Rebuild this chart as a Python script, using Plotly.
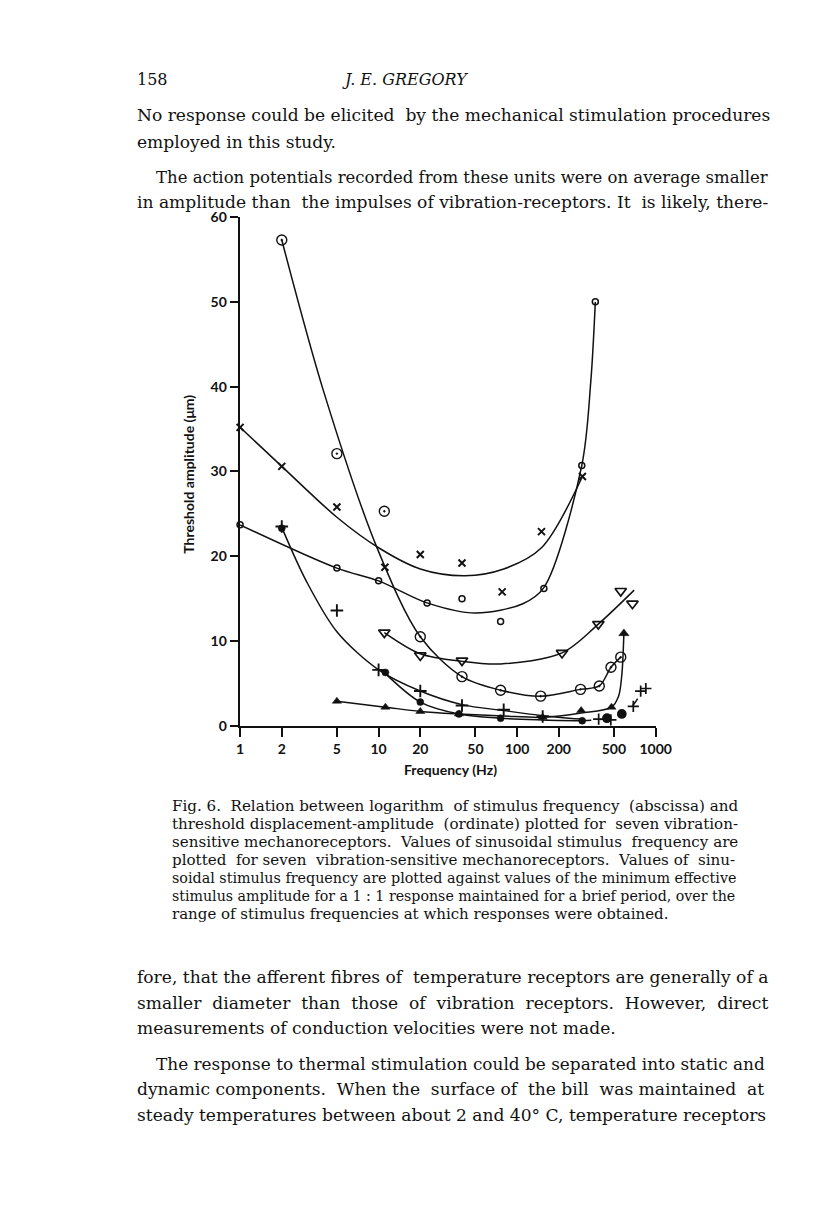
import plotly.graph_objects as go

W, H = 816, 1215

# ---------------- data ----------------
# Unit A: large dotted circles
A_x = [2, 5, 11, 20, 40, 76, 148, 287, 392, 476, 560]
A_y = [57.3, 32.1, 25.3, 10.5, 5.8, 4.2, 3.5, 4.3, 4.7, 6.9, 8.1]
A_cx = [2, 4, 9.8, 20, 40, 76, 148, 287, 392, 476, 560]
A_cy = [57.3, 39.5, 20.9, 10.5, 5.8, 4.2, 3.5, 4.3, 4.7, 6.9, 8.1]

# Unit B: small open circles
B_x = [1, 5, 10, 22.4, 40, 76, 156, 293, 367]
B_y = [23.7, 18.6, 17.1, 14.5, 15.0, 12.3, 16.2, 30.7, 50.0]
B_cx = [1, 5, 10, 22.4, 50, 110, 156, 293, 340, 367]
B_cy = [23.7, 18.6, 17.1, 14.5, 13.3, 14.4, 16.3, 30.7, 40.5, 50.0]

# Unit C: crosses (x)
C_x = [1, 2, 5, 11.1, 20, 40, 78, 150, 296]
C_y = [35.2, 30.6, 25.8, 18.7, 20.2, 19.2, 15.8, 22.9, 29.4]
C_cx = [1, 2, 5, 10, 20, 42, 80, 150, 296]
C_cy = [35.2, 30.6, 24.6, 21.0, 18.5, 17.7, 18.5, 21.0, 29.4]

# Unit D: open inverted triangles
D_x = [11, 20, 40, 211, 386, 560, 680]
D_y = [11.0, 8.3, 7.7, 8.6, 12.0, 15.9, 14.4]
D_cx = [11, 20, 40, 76, 211, 386, 700]
D_cy = [11.0, 8.5, 7.6, 7.3, 8.6, 12.0, 16.0]

# Unit E: plus signs
E_x = [2, 5, 10, 20, 40, 80, 153]
E_y = [23.5, 13.6, 6.6, 4.1, 2.4, 1.9, 1.1]
E_cx = [2, 3, 5, 10, 20, 40, 80, 153, 290]
E_cy = [23.4, 17.1, 11.1, 6.6, 4.1, 2.5, 1.8, 1.2, 0.8]

# Unit F: filled circles (solid part and dashed tail)
F_x = [2, 11.2, 20, 38, 76, 295]
F_y = [23.3, 6.3, 2.8, 1.4, 0.9, 0.6]
F_cx = [10.5, 20, 38, 76, 150, 295]
F_cy = [6.6, 2.8, 1.4, 0.9, 0.7, 0.6]
Ft_x = [388, 445, 475, 570, 690, 780, 850]
Ft_y = [0.8, 0.9, 0.7, 1.4, 2.3, 4.1, 4.4]
Ft_sym = ["cross-thin-open", "circle", "cross-thin-open", "circle",
          "cross-thin-open", "cross-thin-open", "cross-thin-open"]
Ft_cx = [295, 400, 500, 600, 700, 790]
Ft_cy = [0.6, 0.75, 1.0, 1.6, 2.6, 4.0]

# Unit G: filled triangles
G_x = [5, 11.2, 20, 38, 153, 290, 480]
G_y = [2.9, 2.2, 1.7, 1.4, 1.0, 1.8, 2.2]
G_cx = [5, 11.2, 20, 38, 80, 153, 290, 480, 540, 570, 590]
G_cy = [2.9, 2.2, 1.7, 1.4, 1.15, 1.0, 1.5, 2.2, 3.5, 6.0, 10.9]

x_ticks = [1, 2, 5, 10, 20, 50, 100, 200, 500, 1000]
x_ticklabels = ["1", "2", "5", "10", "20", "50", "100", "200", "500", "1000"]
y_ticks = [0, 10, 20, 30, 40, 50, 60]

# page text
head_page = "158"
head_author = "J. E. GREGORY"
body_top = [
    "No response could be elicited by the mechanical stimulation procedures",
    "employed in this study.",
    "The action potentials recorded from these units were on average smaller",
    "in amplitude than the impulses of vibration-receptors. It is likely, there-",
]
caption = [
    "Fig. 6. Relation between logarithm of stimulus frequency (abscissa) and",
    "threshold displacement-amplitude (ordinate) plotted for seven vibration-",
    "sensitive mechanoreceptors. Values of sinusoidal stimulus frequency are",
    "plotted for seven vibration-sensitive mechanoreceptors. Values of sinu-",
    "soidal stimulus frequency are plotted against values of the minimum effective",
    "stimulus amplitude for a 1 : 1 response maintained for a brief period, over the",
    "range of stimulus frequencies at which responses were obtained.",
]
body_bottom = [
    "fore, that the afferent fibres of temperature receptors are generally of a",
    "smaller diameter than those of vibration receptors. However, direct",
    "measurements of conduction velocities were not made.",
    "The response to thermal stimulation could be separated into static and",
    "dynamic components. When the surface of the bill was maintained at",
    "steady temperatures between about 2 and 40° C, temperature receptors",
]

# ---------------- figure ----------------
fig = go.Figure()
K = "#111111"
LW = 1.5


def curve(x, y, dash="solid"):
    fig.add_trace(go.Scatter(x=x, y=y, mode="lines",
                             line=dict(color=K, width=LW, shape="spline",
                                       smoothing=0.9, dash=dash),
                             hoverinfo="skip", cliponaxis=False))


def pts(x, y, symbol, size, lw=1.3):
    fig.add_trace(go.Scatter(x=x, y=y, mode="markers",
                             marker=dict(symbol=symbol, size=size, color=K,
                                         line=dict(color=K, width=lw)),
                             cliponaxis=False))


curve(A_cx, A_cy)
curve(B_cx, B_cy)
curve(C_cx, C_cy)
curve(D_cx, D_cy)
curve(E_cx, E_cy)
curve(F_cx, F_cy)
curve(Ft_cx, Ft_cy, dash="dash")
curve(G_cx, G_cy)

pts(A_x, A_y, "circle-open-dot", 10, 1.4)
pts(B_x, B_y, "circle-open", 6, 1.5)
pts(C_x, C_y, "x-thin-open", 7, 2.0)
pts(D_x, D_y, "triangle-down-open", 10, 1.7)
pts(E_x, E_y, "cross-thin-open", 9, 1.9)
pts(F_x, F_y, "circle", 7, 0.5)
pts(Ft_x, Ft_y, Ft_sym, 8, 1.7)
pts(G_x, G_y, "triangle-up", 8, 0.5)
# arrowhead at the end of the triangle curve
pts([G_cx[-1]], [G_cy[-1]], "triangle-up", 9, 0.5)

# plot area in pixels
x0, x1 = 242, 668
y0, y1 = 727, 211
tickfont = dict(family="Lato", size=14, color=K, weight="bold")

fig.update_layout(
    width=W, height=H, margin=dict(l=0, r=0, t=0, b=0),
    paper_bgcolor="white", plot_bgcolor="white", showlegend=False,
    xaxis=dict(type="log", range=[0, 3], domain=[x0 / W, x1 / W],
               tickvals=x_ticks, ticktext=x_ticklabels, ticks="outside",
               ticklen=9, tickwidth=2, tickcolor=K, showline=True,
               linecolor=K, linewidth=2.5, showgrid=False, zeroline=False,
               tickfont=tickfont, anchor="y"),
    yaxis=dict(range=[0, 60], domain=[1 - y0 / H, 1 - y1 / H],
               tickvals=y_ticks, ticks="outside", ticklen=8, tickwidth=2,
               tickcolor=K, showline=True, linecolor=K, linewidth=2.5,
               showgrid=False, zeroline=False, tickfont=tickfont,
               anchor="x"),
)

ann = []
# axis titles
ann.append(dict(text="Frequency (Hz)", x=458 / W, y=1 - 771 / H,
                xref="paper", yref="paper", showarrow=False,
                xanchor="center", yanchor="middle",
                font=dict(family="Lato", size=14, color=K, weight="bold")))
ann.append(dict(text="Threshold amplitude (μm)", x=189 / W, y=1 - 472 / H,
                xref="paper", yref="paper", showarrow=False, textangle=-90,
                xanchor="center", yanchor="middle",
                font=dict(family="Lato", size=14, color=K, weight="bold")))

serif = "DejaVu Serif"
NB = "\u00a0"


def widen(text, n):
    """Add n extra non-breaking spaces spread evenly over the word gaps."""
    words = text.split(" ")
    g = len(words) - 1
    if n <= 0 or g <= 0:
        return text
    extra = [0] * g
    for k in range(n):
        extra[int((k + 0.5) * g / n) % g] += 1
    out = words[0]
    for i in range(g):
        out += " " + NB * extra[i] + words[i + 1]
    return out


def line(text, xpx, ypx, size, anchor="left", italic=False):
    ann.append(dict(text=text, x=xpx / W, y=1 - ypx / H, xref="paper",
                    yref="paper", showarrow=False, xanchor=anchor,
                    yanchor="middle",
                    font=dict(family=serif, size=size, color=K,
                              style="italic" if italic else "normal")))


L, IND = 134, 154
# running head
line(head_page, L, 72, 16)
line(head_author, 411, 72, 16, anchor="center", italic=True)

# (x, y, size, extra spaces)
top_fmt = [(L, 108, 17.1, 1), (L, 134.5, 17.1, 0), (IND, 171, 16.5, 0),
           (L, 196, 17.1, 2)]
for t, (xx, yy, sz, n) in zip(body_top, top_fmt):
    line(widen(t, n), xx, yy, sz)

cap_fmt = [(15.1, 3), (15.1, 2), (15.1, 2), (15.1, 4), (14.3, 0), (14.2, 0),
           (15.0, 0)]
for i, (t, (sz, n)) in enumerate(zip(caption, cap_fmt)):
    line(widen(t, n), 170, 808 + 18.3 * i, sz)

bot_fmt = [(L, 982, 17.1, 1), (L, 1008, 17.1, 8), (L, 1033.5, 17.1, 0),
           (IND, 1070, 16.9, 0), (L, 1095.5, 17.1, 5), (L, 1121.5, 17.1, 0)]
for t, (xx, yy, sz, n) in zip(body_bottom, bot_fmt):
    line(widen(t, n), xx, yy, sz)

fig.update_layout(annotations=ann)
fig.write_html("out.html",
               config={"displayModeBar": False, "staticPlot": True},
               post_script="document.body.style.margin='0';"
                           "document.documentElement.style.overflow='hidden';")
